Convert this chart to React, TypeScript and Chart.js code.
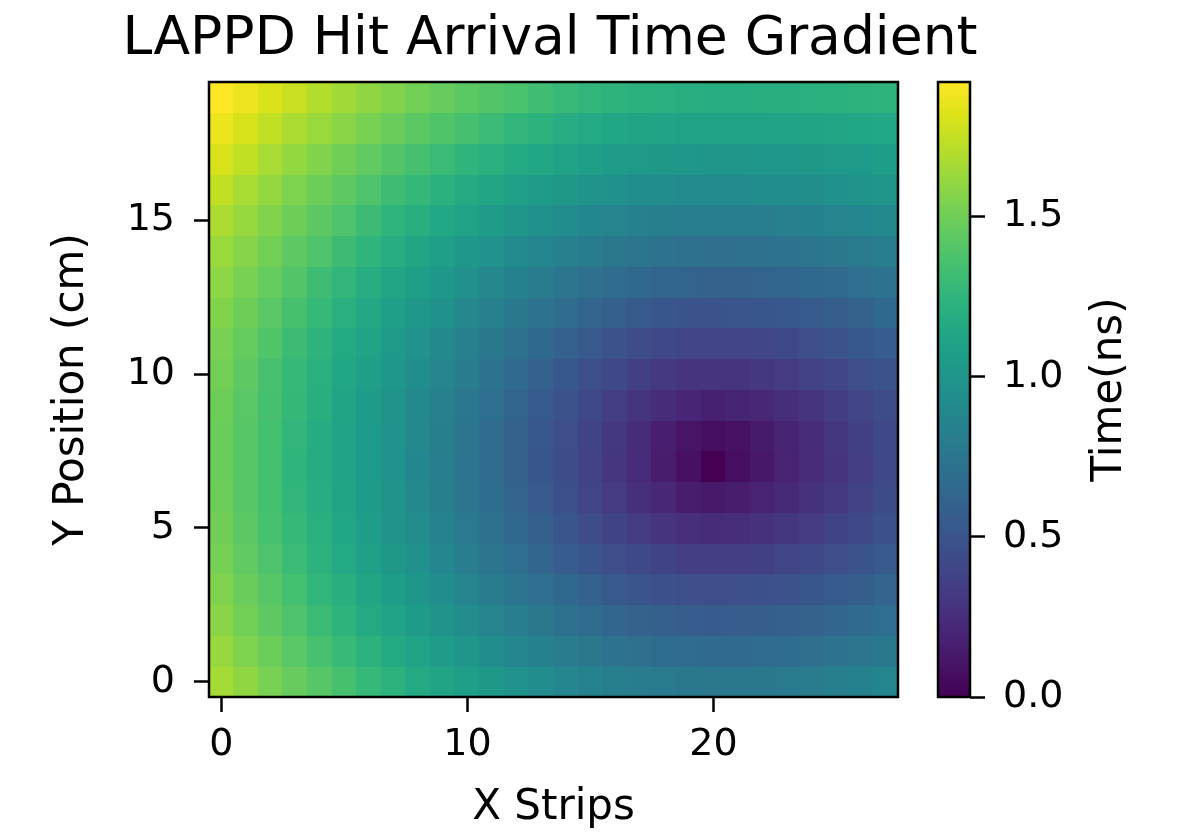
import React, { useEffect, useRef } from "react";
import { Chart, registerables } from "chart.js";

Chart.register(...registerables);

// ---- Data (Time in ns), rows indexed by Y position (cm), columns by X strip ----
const X_STRIPS = [0, 1, 2, 3, 4, 5, 6, 7, 8, 9, 10, 11, 12, 13, 14, 15, 16, 17, 18, 19, 20, 21, 22, 23, 24, 25, 26, 27];
const Y_POSITIONS = [0, 1, 2, 3, 4, 5, 6, 7, 8, 9, 10, 11, 12, 13, 14, 15, 16, 17, 18, 19];

const ROW_Y0 = [1.66, 1.60, 1.53, 1.47, 1.41, 1.35, 1.28, 1.23, 1.17, 1.12, 1.07, 1.02, 0.97, 0.92, 0.88, 0.85, 0.82, 0.80, 0.78, 0.77, 0.76, 0.77, 0.77, 0.78, 0.80, 0.82, 0.84, 0.87];
const ROW_Y1 = [1.62, 1.55, 1.49, 1.42, 1.36, 1.29, 1.23, 1.17, 1.11, 1.05, 1.00, 0.93, 0.88, 0.84, 0.79, 0.76, 0.72, 0.70, 0.68, 0.67, 0.66, 0.66, 0.67, 0.68, 0.70, 0.72, 0.75, 0.77];
const ROW_Y2 = [1.58, 1.51, 1.44, 1.38, 1.30, 1.24, 1.17, 1.11, 1.05, 0.99, 0.92, 0.86, 0.81, 0.76, 0.71, 0.67, 0.63, 0.60, 0.58, 0.56, 0.55, 0.56, 0.57, 0.58, 0.60, 0.63, 0.66, 0.69];
const ROW_Y3 = [1.55, 1.48, 1.41, 1.34, 1.26, 1.20, 1.13, 1.06, 1.00, 0.93, 0.86, 0.80, 0.74, 0.69, 0.64, 0.59, 0.53, 0.50, 0.47, 0.45, 0.45, 0.45, 0.47, 0.48, 0.51, 0.54, 0.57, 0.61];
const ROW_Y4 = [1.52, 1.45, 1.38, 1.30, 1.23, 1.16, 1.09, 1.02, 0.96, 0.88, 0.81, 0.75, 0.69, 0.63, 0.56, 0.50, 0.45, 0.41, 0.38, 0.35, 0.35, 0.35, 0.36, 0.39, 0.42, 0.45, 0.49, 0.53];
const ROW_Y5 = [1.50, 1.43, 1.36, 1.28, 1.21, 1.14, 1.06, 0.99, 0.92, 0.85, 0.78, 0.71, 0.64, 0.58, 0.50, 0.44, 0.38, 0.33, 0.29, 0.26, 0.24, 0.25, 0.27, 0.30, 0.33, 0.38, 0.42, 0.47];
const ROW_Y6 = [1.49, 1.41, 1.34, 1.26, 1.19, 1.12, 1.05, 0.98, 0.89, 0.82, 0.75, 0.68, 0.61, 0.53, 0.46, 0.39, 0.33, 0.26, 0.21, 0.15, 0.13, 0.15, 0.18, 0.22, 0.27, 0.32, 0.37, 0.43];
const ROW_Y7 = [1.48, 1.41, 1.34, 1.25, 1.18, 1.11, 1.04, 0.97, 0.88, 0.81, 0.74, 0.67, 0.60, 0.51, 0.44, 0.37, 0.30, 0.23, 0.15, 0.08, 0.00, 0.07, 0.12, 0.18, 0.23, 0.29, 0.35, 0.41];
const ROW_Y8 = [1.48, 1.41, 1.34, 1.26, 1.18, 1.11, 1.04, 0.97, 0.89, 0.82, 0.74, 0.67, 0.60, 0.52, 0.45, 0.38, 0.31, 0.24, 0.16, 0.10, 0.07, 0.09, 0.14, 0.19, 0.24, 0.30, 0.36, 0.41];
const ROW_Y9 = [1.49, 1.42, 1.35, 1.27, 1.20, 1.12, 1.05, 0.98, 0.90, 0.83, 0.76, 0.69, 0.62, 0.54, 0.48, 0.41, 0.35, 0.29, 0.24, 0.20, 0.17, 0.19, 0.21, 0.25, 0.29, 0.34, 0.39, 0.44];
const ROW_Y10 = [1.51, 1.44, 1.36, 1.28, 1.21, 1.14, 1.07, 1.01, 0.93, 0.86, 0.79, 0.72, 0.66, 0.59, 0.52, 0.46, 0.41, 0.36, 0.32, 0.29, 0.29, 0.29, 0.31, 0.33, 0.37, 0.40, 0.45, 0.49];
const ROW_Y11 = [1.53, 1.46, 1.39, 1.31, 1.24, 1.17, 1.11, 1.04, 0.97, 0.90, 0.83, 0.77, 0.71, 0.65, 0.59, 0.53, 0.48, 0.44, 0.41, 0.39, 0.39, 0.39, 0.40, 0.42, 0.45, 0.48, 0.52, 0.56];
const ROW_Y12 = [1.56, 1.49, 1.42, 1.35, 1.28, 1.21, 1.15, 1.08, 1.02, 0.96, 0.89, 0.83, 0.77, 0.72, 0.67, 0.62, 0.58, 0.54, 0.51, 0.49, 0.49, 0.50, 0.51, 0.52, 0.54, 0.57, 0.60, 0.64];
const ROW_Y13 = [1.59, 1.53, 1.46, 1.40, 1.32, 1.26, 1.19, 1.13, 1.07, 1.01, 0.96, 0.89, 0.84, 0.79, 0.74, 0.70, 0.67, 0.64, 0.62, 0.61, 0.60, 0.60, 0.61, 0.62, 0.64, 0.66, 0.69, 0.72];
const ROW_Y14 = [1.63, 1.57, 1.51, 1.44, 1.38, 1.31, 1.25, 1.19, 1.13, 1.08, 1.02, 0.97, 0.91, 0.87, 0.83, 0.79, 0.76, 0.74, 0.72, 0.71, 0.70, 0.70, 0.71, 0.72, 0.74, 0.76, 0.78, 0.81];
const ROW_Y15 = [1.68, 1.62, 1.56, 1.49, 1.43, 1.38, 1.31, 1.25, 1.20, 1.15, 1.10, 1.05, 1.00, 0.96, 0.92, 0.88, 0.86, 0.83, 0.82, 0.81, 0.81, 0.81, 0.81, 0.83, 0.84, 0.86, 0.88, 0.90];
const ROW_Y16 = [1.74, 1.67, 1.61, 1.55, 1.49, 1.44, 1.38, 1.32, 1.27, 1.22, 1.17, 1.13, 1.09, 1.05, 1.02, 0.99, 0.96, 0.93, 0.92, 0.91, 0.91, 0.91, 0.92, 0.93, 0.94, 0.96, 0.98, 1.00];
const ROW_Y17 = [1.80, 1.74, 1.67, 1.61, 1.56, 1.50, 1.45, 1.40, 1.35, 1.30, 1.25, 1.21, 1.17, 1.14, 1.10, 1.07, 1.05, 1.03, 1.02, 1.01, 1.00, 1.00, 1.01, 1.01, 1.02, 1.03, 1.04, 1.06];
const ROW_Y18 = [1.86, 1.80, 1.74, 1.68, 1.63, 1.58, 1.53, 1.48, 1.43, 1.39, 1.35, 1.30, 1.26, 1.23, 1.19, 1.16, 1.14, 1.12, 1.11, 1.10, 1.10, 1.10, 1.10, 1.11, 1.12, 1.13, 1.14, 1.15];
const ROW_Y19 = [1.92, 1.87, 1.81, 1.76, 1.70, 1.65, 1.60, 1.56, 1.51, 1.47, 1.43, 1.40, 1.37, 1.33, 1.29, 1.26, 1.24, 1.22, 1.21, 1.20, 1.19, 1.19, 1.20, 1.20, 1.21, 1.22, 1.23, 1.24];

const TIME_ROWS = [ROW_Y0, ROW_Y1, ROW_Y2, ROW_Y3, ROW_Y4, ROW_Y5, ROW_Y6, ROW_Y7, ROW_Y8, ROW_Y9, ROW_Y10, ROW_Y11, ROW_Y12, ROW_Y13, ROW_Y14, ROW_Y15, ROW_Y16, ROW_Y17, ROW_Y18, ROW_Y19];

const X_TICKS = [0, 10, 20];
const Y_TICKS = [0, 5, 10, 15];
const CB_TICKS = [0, 0.5, 1.0, 1.5];

const TITLE = "LAPPD Hit Arrival Time Gradient";
const X_LABEL = "X Strips";
const Y_LABEL = "Y Position (cm)";
const CB_LABEL = "Time(ns)";

const VMIN = Math.min(...TIME_ROWS.map((r) => Math.min(...r)));
const VMAX = Math.max(...TIME_ROWS.map((r) => Math.max(...r)));

// ---- viridis colormap ----
const VIRIDIS = [
  "#440154", "#471365", "#482475", "#463480", "#414487", "#3b528b", "#355f8d",
  "#2f6c8e", "#2a788e", "#25848e", "#21918c", "#1e9c89", "#22a884", "#2fb47c",
  "#44bf70", "#5ec962", "#7ad151", "#9bd93c", "#bddf26", "#dfe318", "#fde725",
];
function hexToRgb(h: string) {
  return [parseInt(h.slice(1, 3), 16), parseInt(h.slice(3, 5), 16), parseInt(h.slice(5, 7), 16)];
}
const VIRIDIS_RGB = VIRIDIS.map(hexToRgb);
function viridis(t: number) {
  const tt = Math.max(0, Math.min(1, t));
  const pos = tt * (VIRIDIS_RGB.length - 1);
  const i = Math.min(Math.floor(pos), VIRIDIS_RGB.length - 2);
  const f = pos - i;
  const a = VIRIDIS_RGB[i];
  const b = VIRIDIS_RGB[i + 1];
  const c = a.map((v, k) => Math.round(v + (b[k] - v) * f));
  return `rgb(${c[0]},${c[1]},${c[2]})`;
}

const FONT = '"DejaVu Sans", "Liberation Sans", sans-serif';
const TEXT = "#000000";

const W = 1194;
const H = 833;
const MAIN_W = 1100; // wide enough for the whole title; plot area still ends at x=898
const PLOT_RIGHT = 898;
const CB_LEFT = 920;
const CB_W = W - CB_LEFT;
const TITLE_X = 550;
const TITLE_Y = 40;

const heatmapPlugin = {
  id: "heatmap",
  beforeDatasetsDraw(chart: any) {
    const { ctx, chartArea, scales } = chart;
    const xs = scales.x;
    const ys = scales.y;
    const pts = chart.data.datasets[0].data as any[];
    ctx.save();
    ctx.beginPath();
    ctx.rect(chartArea.left, chartArea.top, chartArea.right - chartArea.left, chartArea.bottom - chartArea.top);
    ctx.clip();
    for (const p of pts) {
      const x0 = Math.floor(xs.getPixelForValue(p.x - 0.5));
      const x1 = Math.ceil(xs.getPixelForValue(p.x + 0.5));
      const y0 = Math.floor(ys.getPixelForValue(p.y + 0.5));
      const y1 = Math.ceil(ys.getPixelForValue(p.y - 0.5));
      ctx.fillStyle = viridis((p.v - VMIN) / (VMAX - VMIN));
      ctx.fillRect(x0, y0, x1 - x0, y1 - y0);
    }
    ctx.restore();
  },
  afterDatasetsDraw(chart: any) {
    const { ctx, chartArea } = chart;
    ctx.save();
    ctx.strokeStyle = TEXT;
    ctx.lineWidth = 2.5;
    ctx.strokeRect(chartArea.left, chartArea.top, chartArea.right - chartArea.left, chartArea.bottom - chartArea.top);
    // title, centred over the figure like matplotlib
    ctx.fillStyle = TEXT;
    ctx.font = `53.5px ${FONT}`;
    ctx.textAlign = "center";
    ctx.textBaseline = "middle";
    ctx.fillText(TITLE, TITLE_X, TITLE_Y);
    ctx.restore();
  },
};

const colorbarPlugin = {
  id: "colorbar",
  beforeDatasetsDraw(chart: any) {
    const { ctx, chartArea, scales } = chart;
    const ys = scales.y;
    const yb = ys.getPixelForValue(VMIN);
    const yt = ys.getPixelForValue(VMAX);
    const g = ctx.createLinearGradient(0, yb, 0, yt);
    VIRIDIS.forEach((c, i) => g.addColorStop(i / (VIRIDIS.length - 1), c));
    ctx.save();
    ctx.fillStyle = g;
    ctx.fillRect(chartArea.left, yt, chartArea.right - chartArea.left, yb - yt);
    ctx.strokeStyle = TEXT;
    ctx.lineWidth = 2.5;
    ctx.strokeRect(chartArea.left, chartArea.top, chartArea.right - chartArea.left, chartArea.bottom - chartArea.top);
    // colorbar label, reading bottom-to-top
    ctx.translate(190, (chartArea.top + chartArea.bottom) / 2);
    ctx.rotate(-Math.PI / 2);
    ctx.fillStyle = TEXT;
    ctx.font = `42px ${FONT}`;
    ctx.textAlign = "center";
    ctx.textBaseline = "middle";
    ctx.fillText(CB_LABEL, 0, 0);
    ctx.restore();
  },
};

export default function App() {
  const mainRef = useRef<HTMLCanvasElement | null>(null);
  const cbRef = useRef<HTMLCanvasElement | null>(null);

  useEffect(() => {
    Chart.defaults.font.family = FONT;
    Chart.defaults.color = TEXT;

    const cells: any[] = [];
    Y_POSITIONS.forEach((yv, ri) => {
      X_STRIPS.forEach((xv, ci) => {
        cells.push({ x: xv, y: yv, v: TIME_ROWS[ri][ci] });
      });
    });

    const main = new Chart(mainRef.current as HTMLCanvasElement, {
      type: "scatter",
      data: { datasets: [{ data: cells, pointRadius: 0, pointHoverRadius: 0 }] },
      options: {
        animation: false,
        responsive: false,
        events: [],
        layout: { padding: { left: 0, right: MAIN_W - PLOT_RIGHT, top: 82, bottom: 0 } },
        plugins: {
          legend: { display: false },
          tooltip: { enabled: false },
          title: { display: false },
        },
        scales: {
          x: {
            type: "linear",
            position: "bottom",
            min: X_STRIPS[0] - 0.5,
            max: X_STRIPS[X_STRIPS.length - 1] + 0.5,
            afterBuildTicks: (s: any) => {
              s.ticks = X_TICKS.map((v) => ({ value: v }));
            },
            afterFit: (s: any) => {
              s.height = 136;
            },
            ticks: {
              color: TEXT,
              font: { size: 38, family: FONT },
              padding: 10,
              maxRotation: 0,
              autoSkip: false,
              callback: (v: any) => String(v),
            },
            grid: { drawOnChartArea: false, drawTicks: true, tickLength: 15, tickColor: TEXT, tickWidth: 2.5 },
            border: { display: false },
            title: {
              display: true,
              text: X_LABEL,
              color: TEXT,
              font: { size: 42, family: FONT, lineHeight: 1.2 },
              padding: { top: 0, bottom: 0 },
            },
          },
          y: {
            type: "linear",
            position: "left",
            min: Y_POSITIONS[0] - 0.5,
            max: Y_POSITIONS[Y_POSITIONS.length - 1] + 0.5,
            afterBuildTicks: (s: any) => {
              s.ticks = Y_TICKS.map((v) => ({ value: v }));
            },
            afterFit: (s: any) => {
              s.width = 209;
            },
            ticks: {
              color: TEXT,
              font: { size: 38, family: FONT },
              padding: 19,
              autoSkip: false,
              callback: (v: any) => String(v),
            },
            grid: { drawOnChartArea: false, drawTicks: true, tickLength: 15, tickColor: TEXT, tickWidth: 2.5 },
            border: { display: false },
            title: {
              display: true,
              text: Y_LABEL,
              color: TEXT,
              font: { size: 42, family: FONT, lineHeight: 1.2 },
              padding: { top: 47, bottom: 0 },
            },
          },
        },
      },
      plugins: [heatmapPlugin],
    } as any);

    const cb = new Chart(cbRef.current as HTMLCanvasElement, {
      type: "scatter",
      data: { datasets: [{ data: [], pointRadius: 0 }] },
      options: {
        animation: false,
        responsive: false,
        events: [],
        layout: { padding: { left: 18, right: 0, top: 82, bottom: 136 } },
        plugins: { legend: { display: false }, tooltip: { enabled: false }, title: { display: false } },
        scales: {
          x: { type: "linear", display: false, min: 0, max: 1 },
          y: {
            type: "linear",
            position: "right",
            min: VMIN,
            max: VMAX,
            afterBuildTicks: (s: any) => {
              s.ticks = CB_TICKS.map((v) => ({ value: v }));
            },
            afterFit: (s: any) => {
              s.width = 224;
            },
            ticks: {
              color: TEXT,
              font: { size: 38, family: FONT },
              padding: 18,
              autoSkip: false,
              callback: (v: any) => Number(v).toFixed(1),
            },
            grid: { drawOnChartArea: false, drawTicks: true, tickLength: 15, tickColor: TEXT, tickWidth: 2.5 },
            border: { display: false },
          },
        },
      },
      plugins: [colorbarPlugin],
    } as any);

    return () => {
      main.destroy();
      cb.destroy();
    };
  }, []);

  return (
    <div style={{ position: "fixed", left: 0, top: 0, width: W, height: H, background: "#ffffff" }}>
      <canvas ref={mainRef} width={MAIN_W} height={H} style={{ position: "absolute", left: 0, top: 0, width: MAIN_W, height: H }} />
      <canvas ref={cbRef} width={CB_W} height={H} style={{ position: "absolute", left: CB_LEFT, top: 0, width: CB_W, height: H }} />
    </div>
  );
}
